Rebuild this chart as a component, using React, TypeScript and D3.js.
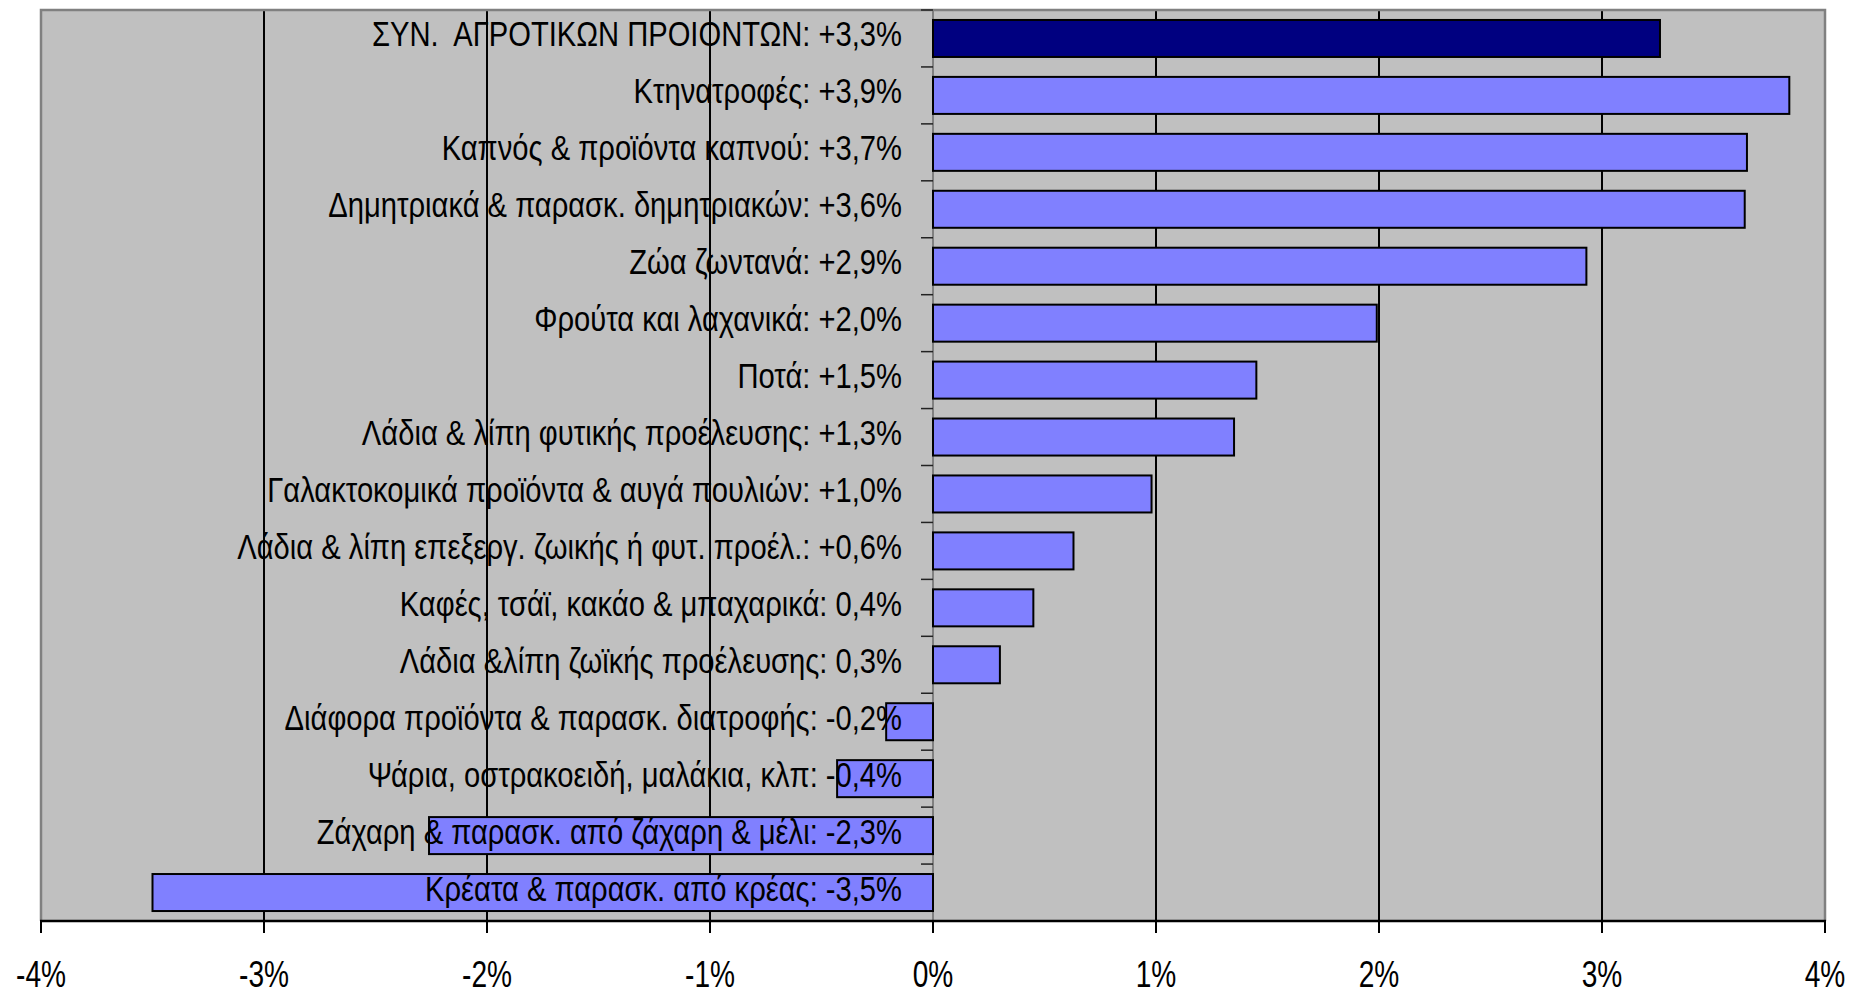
import React from "react";
import * as d3 from "d3";

const categories = [
  "ΣΥΝ.  ΑΓΡΟΤΙΚΩΝ ΠΡΟΙΟΝΤΩΝ: +3,3%",
  "Κτηνατροφές: +3,9%",
  "Καπνός & προϊόντα καπνού: +3,7%",
  "Δημητριακά & παρασκ. δημητριακών: +3,6%",
  "Ζώα ζωντανά: +2,9%",
  "Φρούτα και λαχανικά: +2,0%",
  "Ποτά: +1,5%",
  "Λάδια & λίπη φυτικής προέλευσης: +1,3%",
  "Γαλακτοκομικά προϊόντα & αυγά πουλιών: +1,0%",
  "Λάδια & λίπη επεξεργ. ζωικής ή φυτ. προέλ.: +0,6%",
  "Καφές, τσάϊ, κακάο & μπαχαρικά: 0,4%",
  "Λάδια &λίπη ζωϊκής προέλευσης: 0,3%",
  "Διάφορα προϊόντα & παρασκ. διατροφής: -0,2%",
  "Ψάρια, οστρακοειδή, μαλάκια, κλπ: -0,4%",
  "Ζάχαρη & παρασκ. από ζάχαρη & μέλι: -2,3%",
  "Κρέατα & παρασκ. από κρέας: -3,5%",
];

const values = [
  3.26, 3.84, 3.65, 3.64, 2.93, 1.99, 1.45, 1.35, 0.98, 0.63, 0.45, 0.3, -0.21,
  -0.43, -2.26, -3.5,
];

const tickValues = [-4, -3, -2, -1, 0, 1, 2, 3, 4];
const tickLabels = ["-4%", "-3%", "-2%", "-1%", "0%", "1%", "2%", "3%", "4%"];

const W = 1849;
const H = 995;
const left = 41;
const right = 1825;
const top = 10;
const bottom = 921;

export default function App() {
  const x = d3.scaleLinear().domain([-4, 4]).range([left, right]);
  const y = d3
    .scaleBand<number>()
    .domain(d3.range(categories.length))
    .range([top, bottom])
    .paddingInner(0.35)
    .paddingOuter(0.175);
  const x0 = x(0);
  const font = "'Liberation Sans', Arial, sans-serif";

  return (
    <svg
      width={W}
      height={H}
      style={{ position: "absolute", left: 0, top: 0, background: "#fff" }}
    >
      <rect x={left} y={top} width={right - left} height={bottom - top} fill="#C0C0C0" />
      {tickValues
        .filter((t) => t !== -4 && t !== 4 && t !== 0)
        .map((t) => (
          <line key={t} x1={x(t)} x2={x(t)} y1={top} y2={bottom} stroke="#000" strokeWidth={2} />
        ))}
      <path
        d={`M${left},${bottom}V${top}H${right}V${bottom}`}
        fill="none"
        stroke="#808080"
        strokeWidth={2.5}
      />
      <line x1={x0} x2={x0} y1={top} y2={bottom} stroke="#808080" strokeWidth={2} />
      {d3.range(categories.length + 1).map((i) => {
        const yy = top + (bottom - top) * (i / categories.length);
        return <line key={i} x1={x0 - 12} x2={x0} y1={yy} y2={yy} stroke="#222" strokeWidth={1.5} />;
      })}
      {values.map((v, i) => (
        <rect
          key={i}
          x={Math.min(x(v), x0)}
          y={y(i)!}
          width={Math.abs(x(v) - x0)}
          height={y.bandwidth()}
          fill={i === 0 ? "#000080" : "#8080FF"}
          stroke="#000"
          strokeWidth={2}
        />
      ))}
      {categories.map((c, i) => {
        const cy = y(i)! + y.bandwidth() / 2 + 8;
        return (
          <text
            key={i}
            transform={`translate(${x0 - 31},${cy}) scale(0.81,1)`}
            textAnchor="end"
            fontFamily={font}
            fontSize={36}
            fill="#000"
            style={{ whiteSpace: "pre" }}
          >
            {c}
          </text>
        );
      })}
      <line x1={left - 1} x2={right + 1} y1={bottom} y2={bottom} stroke="#000" strokeWidth={2.5} />
      {tickValues.map((t, i) => (
        <g key={t}>
          <line x1={x(t)} x2={x(t)} y1={bottom} y2={bottom + 12} stroke="#000" strokeWidth={2} />
          <text
            transform={`translate(${x(t)},987) scale(0.77,1)`}
            textAnchor="middle"
            fontFamily={font}
            fontSize={36.5}
            fill="#000"
          >
            {tickLabels[i]}
          </text>
        </g>
      ))}
    </svg>
  );
}
